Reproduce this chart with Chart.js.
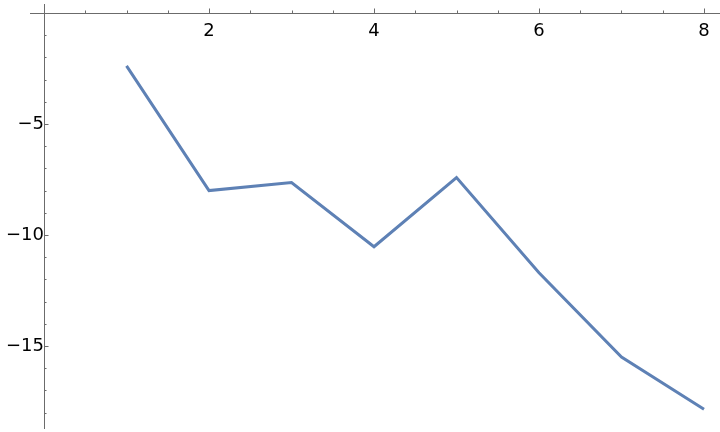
<!DOCTYPE html>
<html>
<head>
<meta charset="utf-8">
<script src="https://cdn.jsdelivr.net/npm/chart.js@4"></script>
<style>
  html, body { margin: 0; padding: 0; background: #fff; }
  #wrap { width: 720px; height: 432px; }
</style>
</head>
<body>
<div id="wrap"><canvas id="myChart" width="720" height="432"></canvas></div>
<script>
// data
var xValues = [1, 2, 3, 4, 5, 6, 7, 8];
var yValues = [-2.38, -8.0, -7.64, -10.53, -7.41, -11.7, -15.5, -17.85];

var xTicks = [2, 4, 6, 8];
var yTicks = [-15, -10, -5];
var xMinorStep = 0.5;
var yMinorStep = 1;

var axisColor = '#6b6b6b';
var lineColor = '#5e81b5';

function fmt(v) {
  return v < 0 ? '\u2212' + Math.abs(v) : String(v);
}

// no extra room for the labels, the axes sit inside the plot
function noPad(axis) {
  axis.paddingTop = 0;
  axis.paddingBottom = 0;
  axis.paddingLeft = 0;
  axis.paddingRight = 0;
}

// axis lines + mathematica style tick marks (pointing into the plot)
var axesPlugin = {
  id: 'axesPlugin',
  afterDraw: function(chart) {
    var ctx = chart.ctx;
    var xs = chart.scales.x, ys = chart.scales.y;
    var area = chart.chartArea;
    var x0 = xs.getPixelForValue(0);
    var y0 = ys.getPixelForValue(0);
    ctx.save();
    ctx.strokeStyle = axisColor;
    ctx.lineWidth = 1;
    ctx.beginPath();
    ctx.moveTo(area.left, Math.round(y0) + 0.5);
    ctx.lineTo(area.right, Math.round(y0) + 0.5);
    ctx.moveTo(Math.round(x0) + 0.5, area.top);
    ctx.lineTo(Math.round(x0) + 0.5, area.bottom);

    // x ticks
    for (var v = xMinorStep; v <= xs.max; v += xMinorStep) {
      var px = Math.round(xs.getPixelForValue(v)) + 0.5;
      var len = (xTicks.indexOf(v) >= 0) ? 4.5 : 2.5;
      ctx.moveTo(px, y0);
      ctx.lineTo(px, y0 - len);
    }
    // y ticks
    for (var w = -yMinorStep; w >= ys.min; w -= yMinorStep) {
      var py = Math.round(ys.getPixelForValue(w)) + 0.5;
      var len2 = (yTicks.indexOf(w) >= 0) ? 4.5 : 2.5;
      ctx.moveTo(x0, py);
      ctx.lineTo(x0 + len2, py);
    }
    ctx.stroke();
    ctx.restore();
  }
};

var pts = xValues.map(function(x, i) { return { x: x, y: yValues[i] }; });

var ctx = document.getElementById('myChart').getContext('2d');
var myChart = new Chart(ctx, {
  type: 'line',
  data: {
    datasets: [{
      data: pts,
      borderColor: lineColor,
      borderWidth: 3,
      pointRadius: 0,
      fill: false,
      tension: 0
    }]
  },
  options: {
    responsive: false,
    animation: false,
    layout: {
      autoPadding: false,
      padding: { left: 30, right: 0, top: 4, bottom: 3 }
    },
    plugins: {
      legend: { display: false },
      tooltip: { enabled: false }
    },
    scales: {
      x: {
        type: 'linear',
        position: { y: 0 },
        min: -0.17,
        max: 8.194,
        grid: { display: false, drawTicks: false },
        border: { display: false },
        afterFit: noPad,
        afterBuildTicks: function(axis) {
          axis.ticks = xTicks.map(function(v) { return { value: v }; });
        },
        ticks: {
          autoSkip: false,
          maxRotation: 0,
          padding: 8,
          color: '#000',
          font: { family: 'DejaVu Sans', size: 18 },
          callback: function(v) { return fmt(v); }
        }
      },
      y: {
        type: 'linear',
        position: { x: 0 },
        min: -18.74,
        max: 0.405,
        grid: { display: false },
        border: { display: false },
        afterFit: noPad,
        afterBuildTicks: function(axis) {
          axis.ticks = yTicks.map(function(v) { return { value: v }; });
        },
        ticks: {
          autoSkip: false,
          padding: 8,
          color: '#000',
          font: { family: 'DejaVu Sans', size: 18 },
          callback: function(v) { return fmt(v); }
        }
      }
    }
  },
  plugins: [axesPlugin]
});
</script>
</body>
</html>
